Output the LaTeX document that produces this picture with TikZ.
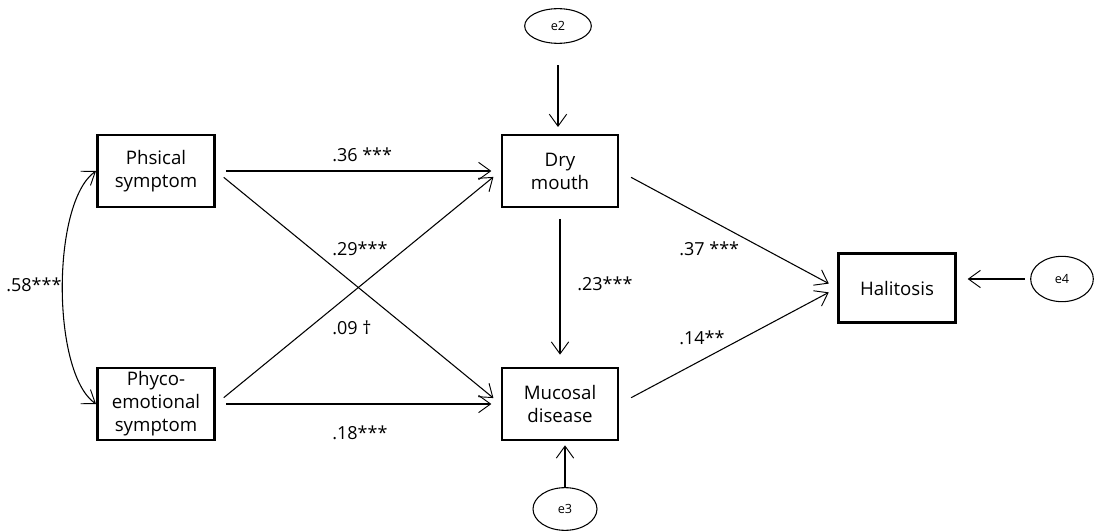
\documentclass[tikz,border=0pt]{standalone}
\usepackage{fontspec}
\setmainfont{Open Sans}
\usetikzlibrary{arrows.meta,shapes.geometric}

\begin{document}
\begin{tikzpicture}[x=0.75pt, y=0.75pt,
    construct/.style ={rectangle, draw, line width=2pt, inner sep=1pt, minimum width=88pt, minimum height=54pt, align=center, font=\fontsize{14}{17.25}\selectfont},
    error/.style ={ellipse, draw, line width=0.8pt, inner sep=0pt, font=\fontsize{9.5}{11}\selectfont},
    coef/.style ={anchor=west, inner sep=0pt, font=\fontsize{13.5}{16}\selectfont},
    effect/.style ={line width=0.8pt, -{Straight Barb[length=9pt, width=13pt, line width=0.7pt]}}]
   \useasboundingbox (0,0) rectangle (1096,-531);

   \node[construct] (phys) at (156,-171) {Phsical\\symptom};
   \node[construct] (phyco) at (156,-404) {Phyco-\\emotional\\symptom};
   \node[construct, minimum width=87pt] (dry) at (560,-171) {Dry\\mouth};
   \node[construct, minimum width=87pt] (muc) at (560,-404) {Mucosal\\disease};
   \node[construct, minimum height=52pt] (hal) at (897,-288) {Halitosis};

   \node[error, minimum width=50pt, minimum height=26pt] (e2) at (558,-26) {e2};
   \node[error, minimum width=48pt, minimum height=32pt] (e3) at (565,-509) {e3};
   \node[error, minimum width=47pt, minimum height=34pt] (e4) at (1062,-279) {e4};

   \draw[effect, shorten <=7.5pt, shorten >=7pt] (phys.east) to (dry.west);
   \draw[effect, shorten <=7.5pt, shorten >=7pt] (phys.east) to (muc.west);
   \draw[effect, shorten <=7.5pt, shorten >=7pt] (phyco.east) to (dry.west);
   \draw[effect, shorten <=7.5pt, shorten >=7pt] (phyco.east) to (muc.west);
   \draw[effect, shorten <=8pt, shorten >=9pt] (dry.south) to (muc.north);
   \draw[effect, shorten <=10pt, shorten >=7pt] (dry.east) to (hal.west);
   \draw[effect, shorten <=10pt, shorten >=7pt] (muc.east) to (hal.west);
   \draw[effect, shorten <=16pt, shorten >=5pt] (e2.south) to (e2.south |- dry.north);
   \draw[effect, shorten >=3pt] (e3.north) to (e3.north |- muc.south);
   \draw[effect, shorten <=4pt, shorten >=8pt] (e4.west) to (e4.west -| hal.east);
   \draw[line width=0.8pt, {Straight Barb[length=9pt, width=13pt, line width=0.7pt]}-{Straight Barb[length=9pt, width=13pt, line width=0.7pt]}]
      (phys.west) to[out=215, in=145, looseness=0.6] (phyco.west);

   \node[coef] (c58) at (6,-285) {.58***};
   \node[coef] (c36) at (332,-155) {.36 ***};
   \node[coef] (c29) at (332,-249) {.29***};
   \node[coef] (c09) at (332,-328) {.09 †};
   \node[coef] (c18) at (332,-433) {.18***};
   \node[coef] (c23) at (577,-284) {.23***};
   \node[coef] (c37) at (679,-249) {.37 ***};
   \node[coef] (c14) at (679,-338) {.14**};
 \end{tikzpicture}
\end{document}
